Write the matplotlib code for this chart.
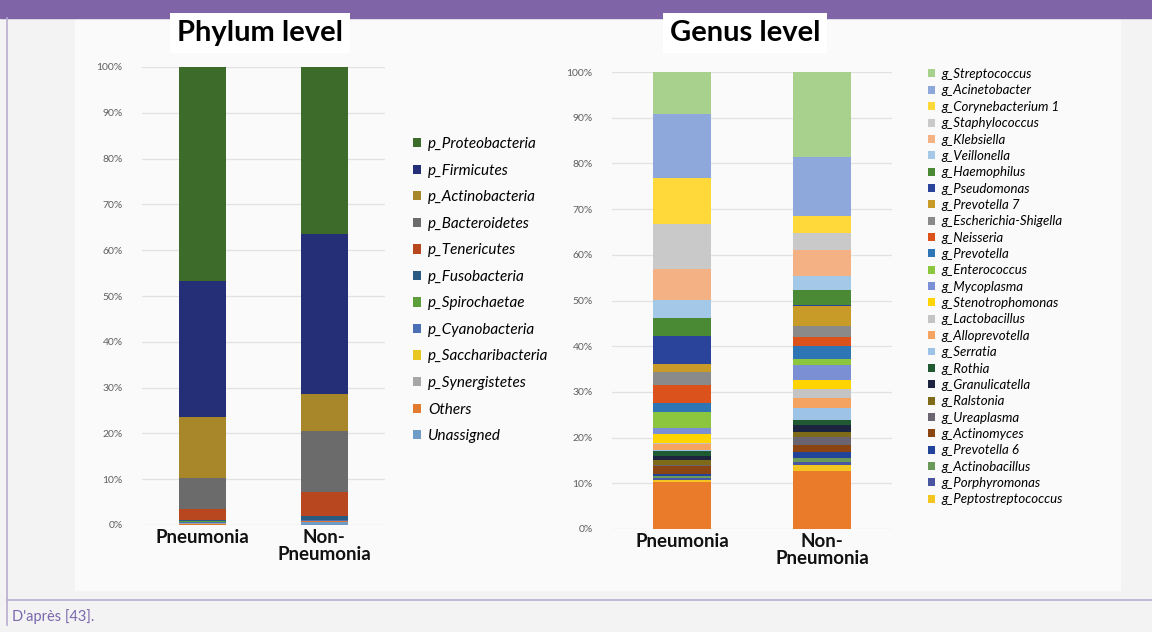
import matplotlib
matplotlib.use("Agg")
import matplotlib.pyplot as plt
from matplotlib.patches import Rectangle

W, H = 1152, 632
plt.rcParams["font.family"] = ["Lato", "DejaVu Sans"]

groups = ["Pneumonia", "Non-\nPneumonia"]

# Phylum composition (%), listed from the bottom of the stack upwards
phylum_names = ["Unassigned", "Others", "p_Synergistetes", "p_Saccharibacteria",
                "p_Cyanobacteria", "p_Spirochaetae", "p_Fusobacteria", "p_Tenericutes",
                "p_Bacteroidetes", "p_Actinobacteria", "p_Firmicutes", "p_Proteobacteria"]
phylum_pneu = [0.1, 0.2, 0.1, 0.1, 0.1, 0.3, 0.2, 2.3, 6.8, 13.3, 29.7, 46.8]
phylum_non = [0.7, 0.1, 0.1, 0.0, 0.2, 0.1, 0.7, 5.4, 13.2, 8.0, 35.0, 36.5]
phylum_colors = ["#6f9cc6", "#e07b30", "#a6a6a6", "#e8c820", "#4a6fb5", "#5c9e3a",
                 "#285a82", "#b8461f", "#6b6b6b", "#a8862a", "#252f78", "#3d6b2a"]

# Genus composition (%), bottom of the stack upwards
genus_names = ["Others", "g_Peptostreptococcus", "g_Porphyromonas", "g_Actinobacillus",
               "g_Prevotella 6", "g_Actinomyces", "g_Ureaplasma", "g_Ralstonia",
               "g_Granulicatella", "g_Rothia", "g_Serratia", "g_Alloprevotella",
               "g_Lactobacillus", "g_Stenotrophomonas", "g_Mycoplasma", "g_Enterococcus",
               "g_Prevotella", "g_Neisseria", "g_Escherichia-Shigella", "g_Prevotella 7",
               "g_Pseudomonas", "g_Haemophilus", "g_Veillonella", "g_Klebsiella",
               "g_Staphylococcus", "g_Corynebacterium 1", "g_Acinetobacter", "g_Streptococcus"]
genus_pneu = [10.3, 0.5, 0.4, 0.4, 0.5, 1.7, 0.3, 0.9, 0.9, 1.1, 0.3, 1.2, 0.3, 2.0,
              1.3, 3.5, 2.0, 3.9, 2.9, 1.8, 6.0, 4.0, 4.0, 6.6, 10.0, 9.9, 14.1, 9.2]
genus_non = [12.6, 1.4, 0.7, 0.9, 1.3, 1.5, 1.7, 1.2, 1.5, 1.1, 2.6, 2.2, 1.9, 2.1,
             3.1, 1.3, 2.9, 2.0, 2.5, 4.4, 0.2, 3.3, 2.9, 5.8, 3.6, 3.7, 13.1, 18.5]
genus_colors = ["#e97b2a", "#f2c521", "#4a55a2", "#6a9a5a", "#22439a", "#8a4512",
                "#6a6470", "#7f6a1a", "#1c2440", "#1f5a32", "#9dc3e6", "#f4a460",
                "#c4c4c4", "#ffd400", "#7b8fd4", "#8cc63f", "#2e75b6", "#db521c",
                "#8a8a8a", "#c89a28", "#2a449c", "#4a8a34", "#a4c8e8", "#f4b183",
                "#c9c9c9", "#ffd83a", "#8fa8dc", "#a9d18e"]


def px_box(x0, y0, x1, y1):
    return [x0 / W, 1 - y1 / H, (x1 - x0) / W, (y1 - y0) / H]


def stacked(ax, names, left_vals, right_vals, colors, width):
    bottom = [0.0, 0.0]
    handles = []
    for name, a, b, c in zip(names, left_vals, right_vals, colors):
        bars = ax.bar([0, 1], [a, b], width, bottom=bottom, color=c, label=name)
        handles.append(bars)
        bottom = [bottom[0] + a, bottom[1] + b]
    ax.set_xlim(-0.5, 1.5)
    ax.set_ylim(0, 100)
    ax.set_yticks(range(0, 101, 10))
    ax.set_yticklabels([f"{v}%" for v in range(0, 101, 10)], fontsize=7.5, color="#5f5f5f")
    ax.set_xticks([0, 1])
    ax.set_xticklabels(groups, fontsize=13.5, fontweight="bold", color="#111111", linespacing=1.0)
    ax.tick_params(length=0, axis="y", pad=14)
    ax.tick_params(length=0, axis="x", pad=3)
    ax.grid(axis="y", color="#e2e2e2", linewidth=0.9)
    ax.set_axisbelow(True)
    ax.set_facecolor("none")
    for s in ax.spines.values():
        s.set_visible(False)
    return handles


fig = plt.figure(figsize=(W / 100, H / 100), dpi=100, facecolor="#f3f3f3")

# page frame: header band, chart panel, left rule, caption rule
bg = fig.add_axes([0, 0, 1, 1], zorder=-5)
bg.set_xlim(0, W)
bg.set_ylim(H, 0)
bg.axis("off")
bg.add_patch(Rectangle((0, 0), W, 18, color="#8064a8"))
bg.add_patch(Rectangle((75, 20), 1045, 570, color="#fafafa"))
bg.plot([7, 7], [18, 625], color="#b8aed0", linewidth=1.2)
bg.plot([7, W], [600, 600], color="#b8aed0", linewidth=1.2)
bg.text(12, 617, "D'après [43].", fontsize=10.5, color="#7b68ad", va="center")
bg.text(260, 33, "Phylum level", fontsize=21, fontweight="bold", ha="center",
        va="center", bbox=dict(facecolor="white", edgecolor="none", pad=5))
bg.text(745, 33, "Genus level", fontsize=21, fontweight="bold", ha="center",
        va="center", bbox=dict(facecolor="white", edgecolor="none", pad=5))

ax1 = fig.add_axes(px_box(142, 67, 385, 525))
h1 = stacked(ax1, phylum_names, phylum_pneu, phylum_non, phylum_colors, 0.39)
ax1.legend(h1[::-1], phylum_names[::-1], loc="upper left", bbox_to_anchor=(1.09, 0.86),
           frameon=False, prop={"style": "italic", "size": 11}, handlelength=0.55,
           handleheight=0.55, handletextpad=0.45, labelspacing=0.82, borderaxespad=0)

ax2 = fig.add_axes(px_box(612, 72, 892, 529))
h2 = stacked(ax2, genus_names, genus_pneu, genus_non, genus_colors, 0.41)
# the bottom "Others" block is not listed in the genus legend
ax2.legend(h2[:0:-1], genus_names[:0:-1], loc="upper left", bbox_to_anchor=(1.11, 1.02),
           frameon=False, prop={"style": "italic", "size": 9.5}, handlelength=0.55,
           handleheight=0.55, handletextpad=0.45, labelspacing=0.33, borderaxespad=0)

fig.savefig("out.png", dpi=100, facecolor=fig.get_facecolor())
